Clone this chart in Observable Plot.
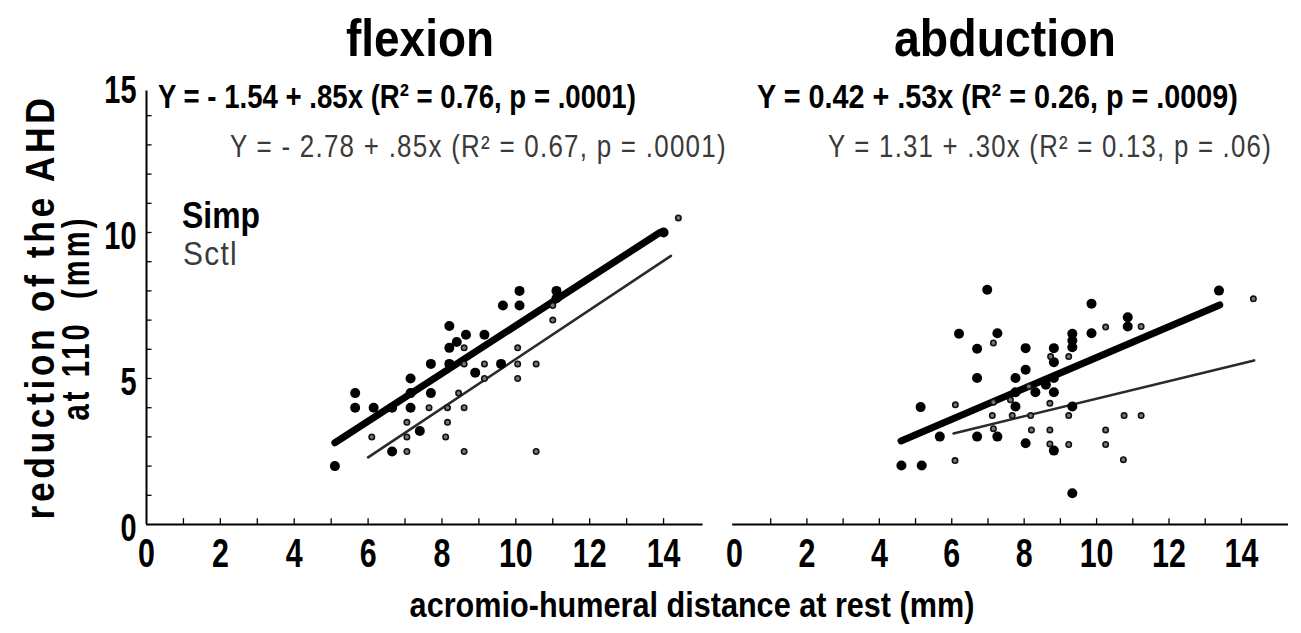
<!DOCTYPE html>
<html><head><meta charset="utf-8">
<script src="https://cdn.jsdelivr.net/npm/d3@7"></script>
<script src="https://cdn.jsdelivr.net/npm/@observablehq/plot@0.6"></script>
<style>
body{margin:0;background:#fff;}
#wrap{position:relative;width:1301px;height:633px;overflow:hidden;background:#fff;}
#wrap svg{position:absolute;top:0;}
</style></head><body><div id="wrap"></div>
<script>
// ---------- data ----------
const panelTitles = ["flexion", "abduction"];
const xTickLabels = [0, 2, 4, 6, 8, 10, 12, 14];
const yTickLabels = [0, 5, 10, 15];
const minorTicks = [1, 2, 3, 4, 5, 6, 7, 8, 9, 10, 11, 12, 13, 14];
const seriesNames = ["Simp", "Sctl"];
const eqSimp = ["Y = - 1.54 + .85x (R² = 0.76, p = .0001)", "Y = 0.42 + .53x (R² = 0.26, p = .0009)"];
const eqSctl = ["Y = - 2.78 + .85x (R² = 0.67, p = .0001)", "Y = 1.31 + .30x (R² = 0.13, p = .06)"];
const yTitle = ["reduction of the AHD", "at 110  (mm)"];
const xTitle = "acromio-humeral distance at rest (mm)";

const flexSimp = [[5.1,2.0],[5.65,4.5],[5.65,4.0],[6.15,4.0],[6.65,4.0],[7.15,4.0],[7.15,4.5],[7.7,4.5],[7.15,5.0],[7.7,5.5],[8.2,5.5],[8.2,6.05],[8.4,6.25],[8.2,6.8],[8.65,6.5],[9.15,6.5],[8.9,5.2],[9.6,5.5],[9.65,7.5],[10.1,7.5],[10.1,8.0],[11.1,8.0],[11.1,7.75],[6.65,2.5],[7.4,3.2],[14.0,10.0]];
const flexSctl = [[6.1,3.0],[7.05,3.5],[7.05,3.0],[7.05,2.5],[7.65,4.0],[8.15,4.0],[8.15,3.5],[8.1,3.0],[8.6,4.0],[8.6,2.5],[8.45,4.5],[8.6,5.5],[8.6,6.05],[9.15,5.5],[9.15,5.0],[10.05,6.05],[10.05,5.5],[10.05,5.0],[10.55,5.5],[10.55,2.5],[11.0,7.5],[11.0,7.0],[14.4,10.5]];
const abdSimp = [[6.98,8.04],[9.86,7.56],[6.2,6.53],[7.26,6.55],[6.7,6.02],[8.04,6.04],[8.82,6.04],[9.33,6.53],[9.33,6.3],[9.33,6.07],[9.86,6.55],[8.82,5.56],[6.7,5.02],[8.04,5.3],[7.76,5.02],[8.82,5.02],[8.6,4.79],[8.31,4.53],[8.82,4.53],[7.76,4.53],[7.76,4.04],[9.33,4.04],[5.14,4.02],[5.67,3.01],[6.7,3.01],[7.26,3.01],[8.04,2.78],[8.82,2.53],[4.61,2.02],[5.17,2.02],[9.33,1.07],[10.86,7.1],[10.86,6.78],[13.38,8.01]];
const abdSctl = [[7.15,6.22],[10.25,6.76],[8.73,5.75],[9.23,5.75],[8.13,4.73],[7.62,4.27],[7.15,4.19],[8.71,4.15],[6.1,4.1],[7.12,3.73],[7.67,3.73],[8.18,3.73],[9.23,3.73],[7.15,3.28],[8.2,3.24],[8.71,3.24],[10.25,3.24],[8.71,2.76],[9.23,2.74],[10.25,2.74],[6.09,2.19],[11.23,6.78],[14.33,7.73],[10.76,3.73],[11.23,3.73],[10.74,2.22]];
const flexSimpFit = [[5.1,2.8],[13.9,10.0]];
const flexSctlFit = [[6.0,2.3],[14.2,9.2]];
const abdSimpFit = [[4.6,2.86],[13.4,7.52]];
const abdSctlFit = [[6.05,3.12],[14.35,5.62]];

// ---------- drawing ----------
const FONT = '"Liberation Sans",Arial,sans-serif';
const H = 633, MT = 86, MB = 633 - 524;
const wrap = document.getElementById("wrap");
const X = d => d[0], Y = d => d[1];

// squeeze tick labels horizontally (the original uses a condensed face)
function squeeze(sel, factor) {
  sel.each(function () {
    const n = this.getComputedTextLength();
    d3.select(this).attr("textLength", n * factor).attr("lengthAdjust", "spacingAndGlyphs");
  });
}

function panel(cfg) {
  const marks = [
    Plot.ruleY([0], {x1: cfg.axisStart, x2: cfg.axisEnd, stroke: "#000", strokeWidth: 2}),
    Plot.ruleX(minorTicks, {x: d => d, y1: 0, y2: 0.2, stroke: "#000", strokeWidth: 1.3}),
    Plot.axisX(xTickLabels, {tickSize: 0, tickPadding: 14, fontSize: 40, fontWeight: "bold", fill: "#000", label: null}),
    Plot.line(cfg.sctlFit, {x: X, y: Y, stroke: "#2a2a2a", strokeWidth: 2.6}),
    Plot.line(cfg.simpFit, {x: X, y: Y, stroke: "#000", strokeWidth: 7, strokeLinecap: "round"}),
    Plot.dot(cfg.simp, {x: X, y: Y, r: 5, fill: "#000", stroke: "none"}),
    Plot.dot(cfg.sctl, {x: X, y: Y, r: 2.7, fill: "#777", stroke: "#111", strokeWidth: 1.6})
  ];
  if (cfg.yAxis) {
    marks.push(
      Plot.ruleX([0], {y1: 0, y2: 14.85, stroke: "#000", strokeWidth: 2}),
      Plot.ruleY(minorTicks, {y: d => d, x1: 0, x2: 0.15, stroke: "#000", strokeWidth: 1.3}),
      Plot.axisY(yTickLabels, {tickSize: 0, tickPadding: 10, dy: 4, fontSize: 38, fontWeight: "bold", fill: "#000", label: null})
    );
  } else {
    marks.push(Plot.axisY({ticks: [], label: null}));
  }
  const svg = Plot.plot({
    width: cfg.width, height: H,
    marginLeft: cfg.ml, marginRight: cfg.mr, marginTop: MT, marginBottom: MB,
    x: {domain: cfg.xDomain}, y: {domain: [0, 15]},
    style: {fontFamily: FONT, background: "transparent", overflow: "visible", color: "#000"},
    marks
  });
  svg.style.left = cfg.left + "px";
  wrap.appendChild(svg);
  squeeze(d3.select(svg).selectAll("g[aria-label$='tick label'] text"), 0.76);
}

panel({left: 0, width: 720, ml: 146, mr: 20, xDomain: [0, 15], axisStart: 0, axisEnd: 15.07,
  simp: flexSimp, sctl: flexSctl, simpFit: flexSimpFit, sctlFit: flexSctlFit, yAxis: true});
panel({left: 720, width: 581, ml: 14, mr: 13, xDomain: [0, 15.3], axisStart: -0.05, axisEnd: 15.3,
  simp: abdSimp, sctl: abdSctl, simpFit: abdSimpFit, sctlFit: abdSctlFit, yAxis: false});

// ---------- text overlay ----------
const ov = d3.select(wrap).append("svg").attr("width", 1301).attr("height", 633)
  .style("left", "0px").style("font-family", FONT).style("pointer-events", "none");

// place a text and scale it horizontally to the width it has in the original
function label(str, x, y, width, attrs, rotate) {
  const t = ov.append("text").attr("x", 0).attr("y", 0).text(str);
  Object.entries(attrs).forEach(([k, v]) => t.attr(k, v));
  const w = t.node().getBBox().width;
  const s = width / w;
  t.attr("transform", `translate(${x},${y})${rotate ? " rotate(-90)" : ""} scale(${s},1)`);
  return t;
}

const titleX = [420, 1005], titleW = [148, 222];
panelTitles.forEach((t, i) => label(t, titleX[i], 56, titleW[i],
  {"text-anchor": "middle", "font-size": 52, "font-weight": "bold"}));
const eqX1 = [158, 757], eqW1 = [478, 481], eqX2 = [230, 828], eqW2 = [497, 444];
eqSimp.forEach((t, i) => label(t, eqX1[i], 108, eqW1[i], {"font-size": 33, "font-weight": "bold"}));
eqSctl.forEach((t, i) => label(t, eqX2[i], 157, eqW2[i], {"font-size": 31, "fill": "#3a3a3a", "letter-spacing": 1.5}));
label(seriesNames[0], 182, 228, 78, {"font-size": 37, "font-weight": "bold"});
label(seriesNames[1], 183, 265, 55, {"font-size": 34, "fill": "#3a3a3a", "letter-spacing": 1.5});
label(xTitle, 692, 617, 565, {"text-anchor": "middle", "font-size": 36, "font-weight": "bold"});
label(yTitle[0], 54, 307, 425, {"text-anchor": "middle", "font-size": 40, "font-weight": "bold", "letter-spacing": 4}, true);
label(yTitle[1], 89, 318, 205, {"text-anchor": "middle", "font-size": 38, "font-weight": "bold", "letter-spacing": 4, "xml:space": "preserve"}, true)
  .style("white-space", "pre");
</script></body></html>
